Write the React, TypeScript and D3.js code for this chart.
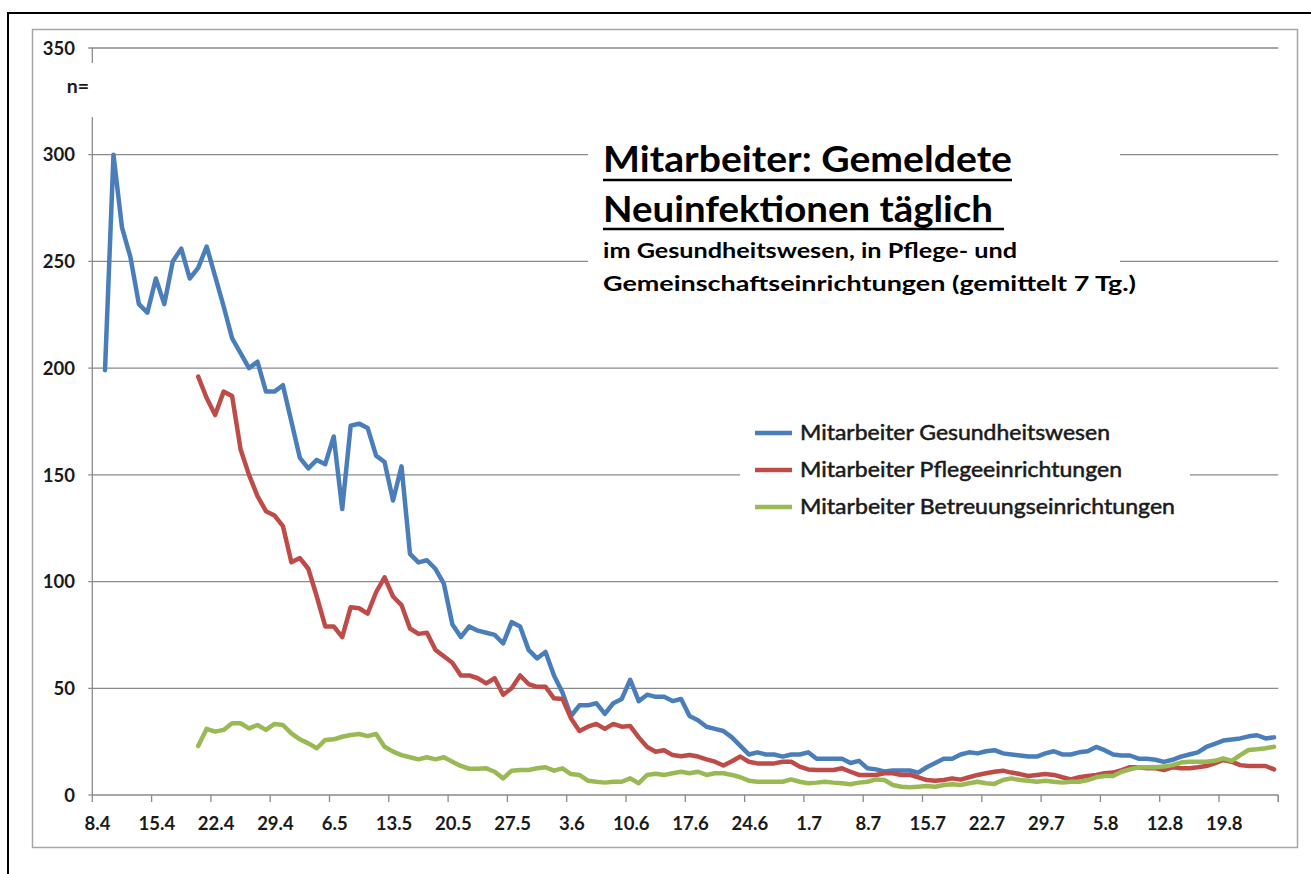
import React from "react";
import * as d3 from "d3";

// ---- data ----
const tickLabels = ["8.4","15.4","22.4","29.4","6.5","13.5","20.5","27.5","3.6","10.6","17.6","24.6","1.7","8.7","15.7","22.7","29.7","5.8","12.8","19.8"];
const categoryCount = 140; // daily categories 8.4 .. 25.8
const yTicks = [0, 50, 100, 150, 200, 250, 300, 350];

const blueStart = 1;
const blueValues = [
  199,300,266,252,230,226,242,230,250,256,
  242,247,257,243,229,214,207,200,203,189,
  189,192,175,158,153,157,155,168,134,173,
  174,172,159,156,138,154,113,109,110,106,
  99,80,74,79,77,76,75,71,81,79,
  68,64,67,56,48,37,42,42,43,38,
  43,45,54,44,47,46,46,44,45,37,
  35,32,31,30,27,23,19,20,19,19,
  18,19,19,20,17,17,17,17,15,16,
  12.5,12,11,11.5,11.5,11.5,10.5,13,15,17,
  17,19,20,19.5,20.5,21,19.5,19,18.5,18,
  18,19.5,20.5,19,19,20,20.5,22.5,21,19,
  18.5,18.5,17,17,16.5,15.5,16.5,18,19,20,
  22.5,24,25.5,26,26.5,27.5,28,26.5,27
];

const redStart = 12;
const redValues = [
  196,186,178,189,187,162,150,140,133,131,
  126,109,111,106,93,79,79,74,88,87.5,
  85,95,102,93,89,78,75.5,76,68,65,
  62,56,56,54.7,52.3,54.7,47,50,56,52,
  50.7,50.7,45.3,45,36,30,32,33.3,31,33.3,
  32,32.3,27,22.5,20.3,21,18.7,18.2,18.7,18,
  16.7,15.6,13.8,15.8,18,15.6,14.8,14.8,14.8,15.6,
  15.6,13.3,12,11.7,11.7,11.7,12.5,10.9,9.4,9.4,
  9.4,10.2,10.2,9.4,9.4,8.3,7,6.7,7,7.8,
  7.2,8.3,9.4,10.2,10.9,11.4,10.5,9.8,8.9,9.4,
  9.8,9.4,8.3,7.3,8.3,8.9,9.4,10.2,10.5,11.7,
  13,13,12.5,12.5,11.7,13,12.5,12.5,13,13.6,
  14.8,16.4,15.6,14,13.6,13.6,13.6,12
];

const greenStart = 12;
const greenValues = [
  23,31,29.7,30.5,33.6,33.6,31.2,32.8,30.5,33.3,
  32.8,28.9,26.1,24.2,21.9,25.8,26.1,27.3,28.1,28.6,
  27.6,28.6,22.6,20.3,18.7,17.7,16.7,17.7,16.7,17.7,
  15.6,13.6,12.3,12.3,12.5,10.9,7.8,11.4,11.7,11.7,
  12.5,13,11.4,12.5,9.8,9.4,6.7,6.2,5.8,6.2,
  6.2,7.8,5.5,9.4,10,9.4,10.2,10.9,10.2,10.9,
  9.4,10.2,10.2,9.4,8.3,6.7,6.2,6.2,6.2,6.2,
  7.3,6.2,5.5,5.8,6.2,5.8,5.5,5,5.8,6.2,
  7.3,7,4.7,3.9,3.6,3.9,4.2,3.9,4.7,5,
  4.7,5.5,6.2,5.5,5.2,7,7.8,7,6.7,6.2,
  6.7,6.2,5.8,6.2,6.2,7,8.3,8.9,8.9,10.9,
  12,13,13,13,13.3,14,15.2,15.6,15.6,15.6,
  16,17.2,16,18.7,21.1,21.4,21.9,22.6
];

const seriesNames = ["Mitarbeiter Gesundheitswesen", "Mitarbeiter Pflegeeinrichtungen", "Mitarbeiter Betreuungseinrichtungen"];
const seriesColors = ["#4a7ebb", "#be4b48", "#98b954"];

// ---- layout ----
const W = 1311, H = 874;
const plotLeft = 92.3, plotRight = 1278.3, plotTop = 48, plotBottom = 795;
const FONT = "Lato, 'Open Sans', sans-serif";

export default function App() {
  const x = d3.scaleLinear().domain([0, categoryCount]).range([plotLeft, plotRight]);
  const y = d3.scaleLinear().domain([0, 350]).range([plotBottom, plotTop]);
  const cx = (i: number) => x(i + 0.5);

  const series = [
    { start: blueStart, values: blueValues },
    { start: redStart, values: redValues },
    { start: greenStart, values: greenValues },
  ];
  const line = d3.line<[number, number]>().x(d => d[0]).y(d => d[1]);
  const paths = series.map(s => line(s.values.map((v, k) => [cx(s.start + k), y(v)] as [number, number])) || "");

  const gridColor = "#8a8a8a";
  const tickBoundaries = d3.range(0, categoryCount + 1, 7).concat([categoryCount]);
  const labelProps = { fontFamily: FONT, fontWeight: 700, fontSize: 18.5, fill: "#1a1a1a" };

  return (
    <svg width={W} height={H} style={{ position: "absolute", left: 0, top: 0, background: "#fff" }}>
      <rect x={0} y={0} width={W} height={H} fill="#fff" />
      {/* outer black frame (top/left visible) */}
      <rect x={8} y={13} width={1400} height={1000} fill="none" stroke="#000" strokeWidth={2} />
      {/* chart border */}
      <rect x={32.5} y={29.5} width={1265} height={818} fill="none" stroke="#a6a6a6" strokeWidth={1.5} />

      {/* gridlines */}
      {yTicks.filter(t => t > 0).map(t => (
        <line key={t} x1={plotLeft - 4} x2={plotRight} y1={y(t)} y2={y(t)} stroke={gridColor} strokeWidth={1.3} />
      ))}
      {/* y axis */}
      <line x1={plotLeft} x2={plotLeft} y1={plotTop} y2={plotBottom} stroke={gridColor} strokeWidth={1.3} />
      <line x1={plotLeft - 4} x2={plotLeft} y1={plotBottom} y2={plotBottom} stroke={gridColor} strokeWidth={1.3} />
      {yTicks.map(t => (
        <text key={t} x={75} y={y(t)} dy="0.36em" textAnchor="end" {...labelProps}>{t}</text>
      ))}
      {/* n= label with white background */}
      <rect x={55} y={63} width={42} height={54} fill="#fff" />
      <text x={89} y={93} textAnchor="end" {...labelProps} fontSize={19.5}>n=</text>

      {/* x axis */}
      <line x1={plotLeft} x2={plotRight} y1={plotBottom} y2={plotBottom} stroke={gridColor} strokeWidth={1.3} />
      {tickBoundaries.map((b, k) => (
        <line key={"t" + k} x1={x(b)} x2={x(b)} y1={plotBottom} y2={plotBottom + 7} stroke={gridColor} strokeWidth={1.3} />
      ))}
      {tickLabels.map((lab, k) => (
        <text key={lab + k} x={cx(k * 7) + 1} y={830} textAnchor="middle" {...labelProps}>{lab}</text>
      ))}

      {/* series */}
      {paths.map((d, k) => (
        <path key={k} d={d} fill="none" stroke={seriesColors[k]} strokeWidth={4.5} strokeLinejoin="round" strokeLinecap="round" />
      ))}

      {/* title box */}
      <rect x={588} y={132} width={532} height={168} fill="#fff" />
      <text x={603} y={172} fontFamily={FONT} fontWeight={700} fontSize={36} fill="#000" textLength={409} lengthAdjust="spacingAndGlyphs">Mitarbeiter: Gemeldete</text>
      <line x1={603} x2={1012} y1={180} y2={180} stroke="#000" strokeWidth={2.5} />
      <text x={603} y={222} fontFamily={FONT} fontWeight={700} fontSize={36} fill="#000" textLength={390} lengthAdjust="spacingAndGlyphs">Neuinfektionen täglich</text>
      <line x1={603} x2={1004} y1={229} y2={229} stroke="#000" strokeWidth={2.5} />
      <text x={603} y={258} fontFamily={FONT} fontWeight={700} fontSize={21} fill="#000" textLength={414} lengthAdjust="spacingAndGlyphs">im Gesundheitswesen, in Pflege- und</text>
      <text x={603} y={291} fontFamily={FONT} fontWeight={700} fontSize={21} fill="#000" textLength={533} lengthAdjust="spacingAndGlyphs">Gemeinschaftseinrichtungen (gemittelt 7 Tg.)</text>

      {/* legend */}
      <rect x={740} y={415} width={450} height={110} fill="#fff" />
      {seriesNames.map((name, k) => {
        const ly = 433 + k * 37;
        const lens = [310, 322, 375];
        return (
          <g key={name}>
            <line x1={755} x2={792} y1={ly} y2={ly} stroke={seriesColors[k]} strokeWidth={4.5} />
            <text x={800} y={ly} dy="0.36em" fontFamily={FONT} fontWeight={400} fontSize={20.5} fill="#1a1a1a" stroke="#1a1a1a" strokeWidth={0.5} textLength={lens[k]} lengthAdjust="spacingAndGlyphs">{name}</text>
          </g>
        );
      })}
    </svg>
  );
}
